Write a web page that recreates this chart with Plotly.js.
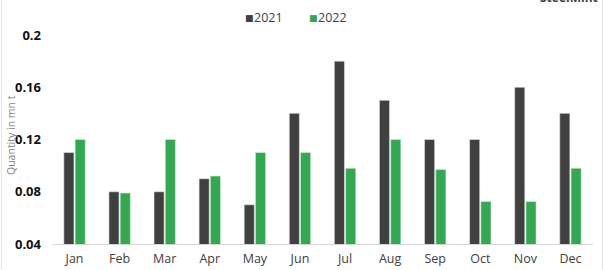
<!DOCTYPE html>
<html>
<head>
<meta charset="utf-8">
<script src="https://cdn.plot.ly/plotly-3.0.1.min.js"></script>
<style>
html,body{margin:0;padding:0;background:#fff;}
#chart{width:604px;height:270px;}
</style>
</head>
<body>
<div id="chart"></div>
<script>
const months = ["Jan","Feb","Mar","Apr","May","Jun","Jul","Aug","Sep","Oct","Nov","Dec"];
const values2021 = [0.11,0.08,0.08,0.09,0.07,0.14,0.18,0.15,0.12,0.12,0.16,0.14];
const values2022 = [0.12,0.079,0.12,0.092,0.11,0.11,0.098,0.12,0.097,0.0725,0.0725,0.098];
const yTicks = [0.04,0.08,0.12,0.16,0.2];
const yTickLabels = ["0.04","0.08","0.12","0.16","0.2"];
const seriesNames = ["2021","2022"];
const seriesColors = ["#404040","#33a853"];
const yAxisTitle = "Quantity in mn t";

const traces = [
  {type:"bar", name:seriesNames[0], x:months, y:values2021,
   marker:{color:seriesColors[0], line:{color:"#e8e8e8", width:0.6}}},
  {type:"bar", name:seriesNames[1], x:months, y:values2022,
   marker:{color:seriesColors[1], line:{color:"#d8f0dc", width:0.6}}}
];

const plotL = 52, plotW = 541, plotT = 35, plotH = 209;
function px(x){ return (x - plotL) / plotW; }
function py(y){ return (plotT + plotH - y) / plotH; }

const legendX = [244, 308];
const legendAnn = [];
seriesNames.forEach((n,i)=>{
  legendAnn.push({text:'<span style="color:'+seriesColors[i]+'">■</span>', xref:"paper", yref:"paper",
    x:px(legendX[i]-1), xanchor:"left", y:py(17), yanchor:"middle", showarrow:false,
    font:{size:9, color:seriesColors[i]}});
  legendAnn.push({text:n, xref:"paper", yref:"paper",
    x:px(legendX[i]+8), xanchor:"left", y:py(17), yanchor:"middle", showarrow:false,
    font:{size:12.5, color:"#404040"}});
});

const layout = {
  width:604, height:270,
  margin:{l:plotL, r:604-plotL-plotW, t:plotT, b:270-plotT-plotH},
  paper_bgcolor:"#fff", plot_bgcolor:"#fff",
  font:{family:"Open Sans, DejaVu Sans, sans-serif", color:"#404040"},
  barmode:"group", bargap:0.5, bargroupgap:0.1,
  showlegend:false,
  xaxis:{showgrid:false, showline:true, linecolor:"#d9d9d9", linewidth:1,
    ticks:"", tickfont:{size:12.5, color:"#404040"}, ticklabelstandoff:3, fixedrange:true},
  yaxis:{range:[0.04,0.2], tickvals:yTicks, ticktext:yTickLabels,
    showgrid:false, zeroline:false, showline:false, ticks:"",
    ticklabelstandoff:10,
    tickfont:{size:13, color:"#111", weight:"bold"}},
  annotations:legendAnn.concat([
    {text:yAxisTitle, xref:"paper", yref:"paper", x:px(11), xanchor:"center",
     y:py(135), yanchor:"middle", textangle:-90, showarrow:false,
     font:{size:10.5, color:"#7f7f7f"}},
    {text:"<b>SteelMint</b>", xref:"paper", yref:"paper", x:px(600), xanchor:"right",
     y:py(8), yanchor:"bottom", showarrow:false, font:{size:12, color:"#404040"}}
  ]),
  shapes:[
    {type:"line", xref:"paper", yref:"paper", x0:px(1.5), x1:px(1.5), y0:-0.2, y1:1.3,
     line:{color:"#e6e6e6", width:1}},
    {type:"line", xref:"paper", yref:"paper", x0:px(602.5), x1:px(602.5), y0:-0.2, y1:1.3,
     line:{color:"#e6e6e6", width:1}}
  ]
};

Plotly.newPlot("chart", traces, layout, {displayModeBar:false, staticPlot:true});
</script>
</body>
</html>
